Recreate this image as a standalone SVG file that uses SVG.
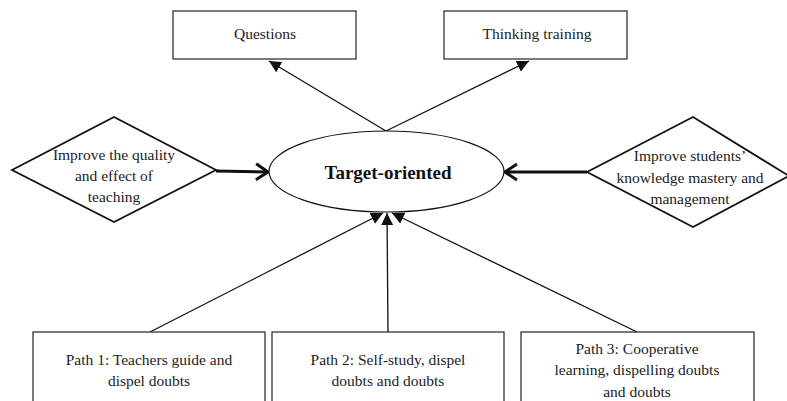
<svg xmlns="http://www.w3.org/2000/svg" width="787" height="401" viewBox="0 0 787 401">
<defs>
<style>
.box{fill:#fff;stroke:#222;stroke-width:1.2}
.dia{fill:#fff;stroke:#111;stroke-width:1.8}
.ell{fill:#fff;stroke:#111;stroke-width:1.2}
.t{font-family:"Liberation Serif","Times New Roman",serif;font-size:15.5px;fill:#222;text-anchor:middle}
.tb{font-family:"Liberation Serif","Times New Roman",serif;font-size:19px;font-weight:bold;fill:#111;text-anchor:middle}
.ln{stroke:#111;stroke-width:1.3;fill:none}
.thick{stroke:#111;stroke-width:3;fill:none}
</style>
<marker id="tri" markerUnits="userSpaceOnUse" markerWidth="14" markerHeight="12" refX="12" refY="6" orient="auto">
<path d="M0,0 L12,6 L0,12 Z" fill="#111"/>
</marker>
<marker id="chev" markerUnits="userSpaceOnUse" markerWidth="16" markerHeight="20" refX="14" refY="10" orient="auto">
<path d="M2,2 L14,10 L2,18" fill="none" stroke="#111" stroke-width="3"/>
</marker>
</defs>
<rect width="787" height="401" fill="#fff"/>
<g id="connectors">
<line class="ln" x1="386" y1="131" x2="269" y2="61" marker-end="url(#tri)"/>
<line class="ln" x1="386" y1="131" x2="529" y2="61" marker-end="url(#tri)"/>
<line class="thick" x1="216" y1="171" x2="268" y2="172" marker-end="url(#chev)"/>
<line class="thick" x1="587" y1="172" x2="505" y2="172" marker-end="url(#chev)"/>
<line class="ln" x1="150" y1="332" x2="383" y2="213" marker-end="url(#tri)"/>
<line class="ln" x1="388" y1="332" x2="387" y2="213" marker-end="url(#tri)"/>
<line class="ln" x1="637" y1="332" x2="392" y2="213" marker-end="url(#tri)"/>
</g>
<g id="questions">
<rect class="box" x="173" y="11" width="183" height="48"/>
<text class="t" x="265" y="39">Questions</text>
</g>
<g id="thinking">
<rect class="box" x="444" y="11" width="183" height="48"/>
<text class="t" x="537" y="39">Thinking training</text>
</g>
<g id="target">
<ellipse class="ell" cx="386.5" cy="171.5" rx="117.5" ry="40.5"/>
<text class="tb" x="388" y="179">Target-oriented</text>
</g>
<g id="improve-quality">
<polygon class="dia" points="12,170 114,117 216,170 114,222"/>
<text class="t" x="114" y="160">Improve the quality</text>
<text class="t" x="114" y="181">and effect of</text>
<text class="t" x="114" y="202">teaching</text>
</g>
<g id="improve-students">
<polygon class="dia" points="587,172 693,117 789,176 693,227"/>
<text class="t" x="690" y="161">Improve students’</text>
<text class="t" x="690" y="183">knowledge mastery and</text>
<text class="t" x="690" y="204">management</text>
</g>
<g id="path1">
<rect class="box" x="33" y="332" width="232" height="80"/>
<text class="t" x="149" y="365">Path 1: Teachers guide and</text>
<text class="t" x="149" y="386">dispel doubts</text>
</g>
<g id="path2">
<rect class="box" x="272" y="332" width="232" height="80"/>
<text class="t" x="388" y="365">Path 2: Self-study, dispel</text>
<text class="t" x="388" y="386">doubts and doubts</text>
</g>
<g id="path3">
<rect class="box" x="521" y="332" width="233" height="80"/>
<text class="t" x="637" y="354">Path 3: Cooperative</text>
<text class="t" x="637" y="375">learning, dispelling doubts</text>
<text class="t" x="637" y="397">and doubts</text>
</g>
</svg>
